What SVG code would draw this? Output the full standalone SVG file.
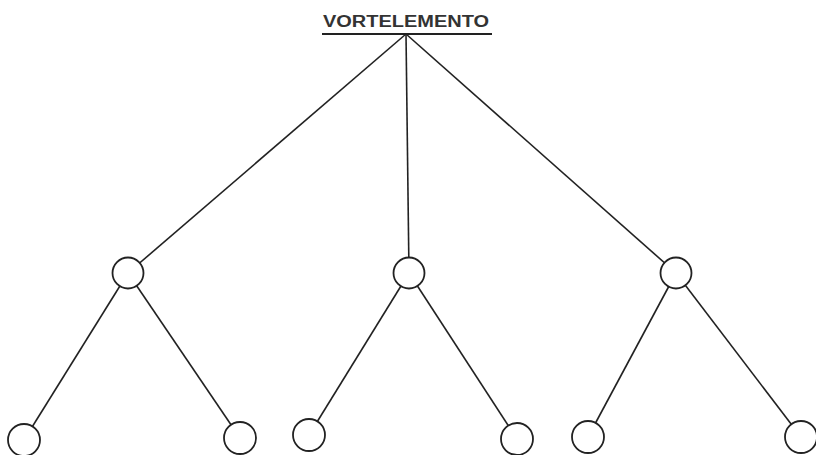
<svg xmlns="http://www.w3.org/2000/svg" width="816" height="455" viewBox="0 0 816 455">
<style>
.e{stroke:#222;stroke-width:1.6;fill:none}
.n{stroke:#222;stroke-width:1.8;fill:#fff}
.t{font-family:"Liberation Sans",Arial,sans-serif;font-weight:bold;font-size:16px;fill:#333}
</style>
<rect width="816" height="455" fill="#fff"/>
<g id="connectors">
<line class="e" x1="406" y1="34" x2="128" y2="273"/>
<line class="e" x1="406" y1="34" x2="409" y2="273"/>
<line class="e" x1="406" y1="34" x2="676" y2="273"/>
<line class="e" x1="128" y1="273" x2="24" y2="440"/>
<line class="e" x1="128" y1="273" x2="240" y2="438"/>
<line class="e" x1="409" y1="273" x2="309" y2="435"/>
<line class="e" x1="409" y1="273" x2="517" y2="439"/>
<line class="e" x1="676" y1="273" x2="588" y2="437"/>
<line class="e" x1="676" y1="273" x2="801" y2="437"/>
</g>
<g id="root">
<text class="t" x="406" y="27" text-anchor="middle" textLength="166" lengthAdjust="spacingAndGlyphs">VORTELEMENTO</text>
<line x1="322" y1="34" x2="492" y2="34" stroke="#222" stroke-width="2"/>
</g>
<g id="n1"><circle class="n" cx="128" cy="273" r="15.5"/></g>
<g id="n2"><circle class="n" cx="409" cy="273" r="15.5"/></g>
<g id="n3"><circle class="n" cx="676" cy="273" r="15.5"/></g>
<g id="n11"><circle class="n" cx="24" cy="440" r="16"/></g>
<g id="n12"><circle class="n" cx="240" cy="438" r="16"/></g>
<g id="n21"><circle class="n" cx="309" cy="435" r="16"/></g>
<g id="n22"><circle class="n" cx="517" cy="439" r="16"/></g>
<g id="n31"><circle class="n" cx="588" cy="437" r="16"/></g>
<g id="n32"><circle class="n" cx="801" cy="437" r="16"/></g>
</svg>
